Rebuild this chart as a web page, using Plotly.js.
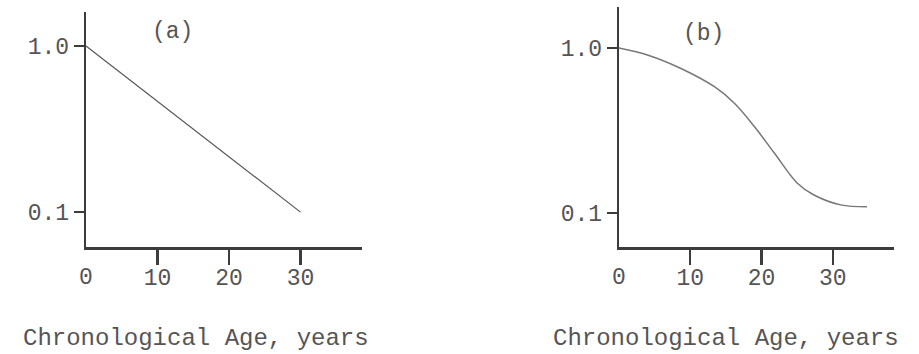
<!DOCTYPE html>
<html>
<head>
<meta charset="utf-8">
<script src="https://cdn.plot.ly/plotly-3.0.1.min.js"></script>
<style>html,body{margin:0;padding:0;background:#fff;}#chart{width:919px;height:354px;}</style>
</head>
<body>
<div id="chart"></div>
<script>
// Panel (a): straight decline on log scale
var ageA = [0, 30];
var valueA = [1.0, 0.1];

// Panel (b): sigmoid-like decline on log scale
var ageB = [0, 4.1, 8.7, 13.4, 16.2, 19.0, 21.8, 25.0, 27.3, 31.1, 34.8];
var valueB = [1.0, 0.904, 0.751, 0.582, 0.462, 0.334, 0.231, 0.152, 0.129, 0.112, 0.109];

var xTickVals = [10, 20, 30];
var xTickText = ['10', '20', '30'];
var xZeroVals = [0];
var xZeroText = ['0'];
var yTickVals = [0.1, 1.0];
var yTickText = ['0.1', '1.0'];
var panelLabels = ['(a)', '(b)'];
var xTitle = 'Chronological Age, years';

var FONT = 'Liberation Mono, Courier New, monospace';
var TXT = '#555';
var AX = '#3c3c3c';

var traces = [
  {x: ageA, y: valueA, xaxis: 'x', yaxis: 'y', mode: 'lines', line: {color: '#555', width: 1.2}, hoverinfo: 'skip'},
  {x: ageB, y: valueB, xaxis: 'x2', yaxis: 'y2', mode: 'lines', line: {color: '#777', width: 1.5, shape: 'spline', smoothing: 1}, hoverinfo: 'skip'},
  {x: [], y: [], xaxis: 'x3', yaxis: 'y', mode: 'lines', hoverinfo: 'skip'},
  {x: [], y: [], xaxis: 'x4', yaxis: 'y2', mode: 'lines', hoverinfo: 'skip'}
];

function xAxis(domain, anchor) {
  return {
    domain: domain, anchor: anchor, range: [0, 38.6],
    showgrid: false, zeroline: false, showline: true, linecolor: AX, linewidth: 2.6,
    tickmode: 'array', tickvals: xTickVals, ticktext: xTickText,
    ticks: 'outside', ticklen: 15, tickwidth: 2.2, tickcolor: AX,
    ticklabelstandoff: -7,
    tickfont: {family: FONT, size: 23, color: TXT}, fixedrange: true
  };
}
function xZeroAxis(over, anchor) {
  return {
    overlaying: over, anchor: anchor, range: [0, 38.6],
    showgrid: false, zeroline: false, showline: false,
    tickmode: 'array', tickvals: xZeroVals, ticktext: xZeroText,
    ticks: 'outside', ticklen: 15, tickwidth: 1, tickcolor: 'rgba(0,0,0,0)',
    ticklabelstandoff: -7,
    tickfont: {family: FONT, size: 23, color: TXT}, fixedrange: true
  };
}
function yAxis(domain, anchor, range) {
  return {
    domain: domain, anchor: anchor, type: 'log', range: range,
    showgrid: false, zeroline: false, showline: true, linecolor: AX, linewidth: 2.2,
    tickmode: 'array', tickvals: yTickVals, ticktext: yTickText,
    ticks: 'outside', ticklen: 10, tickwidth: 2, tickcolor: AX,
    tickfont: {family: FONT, size: 23, color: TXT}, fixedrange: true
  };
}

var layout = {
  width: 919, height: 354,
  margin: {l: 0, r: 0, t: 0, b: 0},
  paper_bgcolor: '#fff', plot_bgcolor: '#fff',
  showlegend: false,
  xaxis: xAxis([86/919, 362/919], 'y'),
  xaxis2: xAxis([619/919, 894/919], 'y2'),
  xaxis3: xZeroAxis('x', 'y'),
  xaxis4: xZeroAxis('x2', 'y2'),
  yaxis: yAxis([1 - 247/354, 1 - 12/354], 'x', [-1.21, 0.205]),
  yaxis2: yAxis([1 - 247/354, 1 - 7/354], 'x2', [-1.206, 0.248]),
  annotations: [
    {text: panelLabels[0], xref: 'paper', yref: 'paper', x: 172/919, y: 1 - 32/354, xanchor: 'center', yanchor: 'middle', showarrow: false, font: {family: FONT, size: 23, color: TXT}},
    {text: panelLabels[1], xref: 'paper', yref: 'paper', x: 703/919, y: 1 - 34/354, xanchor: 'center', yanchor: 'middle', showarrow: false, font: {family: FONT, size: 23, color: TXT}},
    {text: xTitle, xref: 'paper', yref: 'paper', x: 196/919, y: 1 - 338/354, xanchor: 'center', yanchor: 'middle', showarrow: false, font: {family: FONT, size: 24, color: TXT}},
    {text: xTitle, xref: 'paper', yref: 'paper', x: 726/919, y: 1 - 338/354, xanchor: 'center', yanchor: 'middle', showarrow: false, font: {family: FONT, size: 24, color: TXT}}
  ]
};

Plotly.newPlot('chart', traces, layout, {displayModeBar: false, staticPlot: true});
</script>
</body>
</html>
